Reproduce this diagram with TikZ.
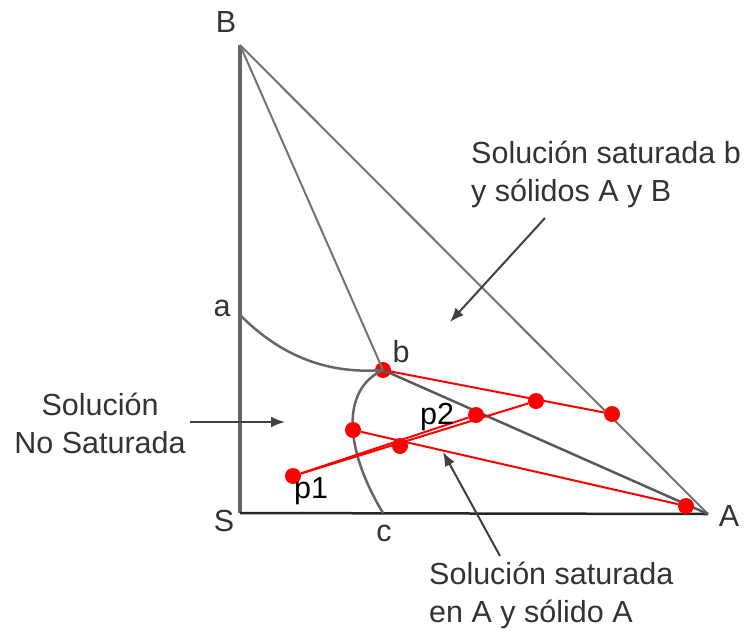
\documentclass[tikz,border=0pt]{standalone}
\usepackage{fontspec}
\setmainfont{Liberation Sans}
\usetikzlibrary{arrows.meta}

\begin{document}
\begin{tikzpicture}[
    x=1pt, y=-1pt,
    font=\fontsize{30.5}{38}\selectfont,
    corner/.style={text=black!80, inner sep=0pt},
    tag/.style={text=black, inner sep=0pt},
    note/.style={text=black!80, inner sep=0pt, align=left},
    dot/.style={circle, fill=red, draw=none, minimum size=16pt, inner sep=0pt},
    axis/.style={draw=black!60, line width=4pt},
    base/.style={draw=black!85, line width=2.5pt},
    side/.style={draw=black!55, line width=2pt},
    branch/.style={draw=black!65, line width=2.5pt},
    curve/.style={draw=black!60, line width=2.5pt},
    tie/.style={draw=red, line width=2pt},
    pointer/.style={-{Latex[length=14pt, width=11pt]}, draw=black!75, line width=2pt}
]
\useasboundingbox (0,0) rectangle (749,635);

% ============ Triangle corners ============
\coordinate (B) at (240,45);
\coordinate (S) at (240,513);
\coordinate (A) at (708,514);
\coordinate (a) at (240,315);
\coordinate (c) at (383,513);

\node[corner] (labB) at (226,22) {B};
\node[corner] (labS) at (224,521) {S};
\node[corner] (labA) at (729,516) {A};
\node[corner] (laba) at (222,308) {a};
\node[corner] (labc) at (384,533) {c};

% ============ Phase boundaries ============
\draw[axis] (S) -- (B);
\draw[side] (B) -- (A);
\draw[base] (S) -- (A);

\node[dot] (b) at (383,370) {};
\node[corner] (labb) at (401,352) {b};

\draw[side] (B) -- (b.center);
\draw[branch] (b.center) -- (A);
\draw[curve] (a) .. controls (275,350) and (320,375) .. (b.center);
\draw[curve] (b.center) .. controls (340,390) and (345,450) .. (c);

% ============ Tie lines ============
\node[dot] (p1) at (293,476) {};
\node[dot] (m1) at (400,446) {};
\node[dot] (p2) at (476,415) {};
\node[dot] (m2) at (536,401) {};
\node[dot] (e1) at (612,414) {};
\node[dot] (s1) at (353,430) {};
\node[dot] (e2) at (686,506) {};

\draw[tie] (b) -- (e1);
\draw[tie] (s1) -- (e2);
\draw[tie] (p1) -- (p2);
\draw[tie] (p1) -- (m2);

\node[tag] (labp1) at (311,491) {p1};
\node[tag] (labp2) at (437,417) {p2};

% ============ Region notes ============
\node[note, anchor=west] (twosolid) at (471,174) {Soluci\'on saturada b\\y s\'olidos A y B};
\node[note, align=center] (unsat) at (100,423) {Soluci\'on\\No Saturada};
\node[note, anchor=west] (onesolid) at (429,595) {Soluci\'on saturada\\en A y s\'olido A};

\coordinate (tailtwo) at (545,218);
\coordinate (headtwo) at (450,322);
\coordinate (tailun) at (190,422);
\coordinate (headun) at (285,422);
\coordinate (tailone) at (500,556);
\coordinate (headone) at (443,452);

\draw[pointer] (tailtwo) -- (headtwo);
\draw[pointer] (tailun) -- (headun);
\draw[pointer] (tailone) -- (headone);

\end{tikzpicture}
\end{document}
